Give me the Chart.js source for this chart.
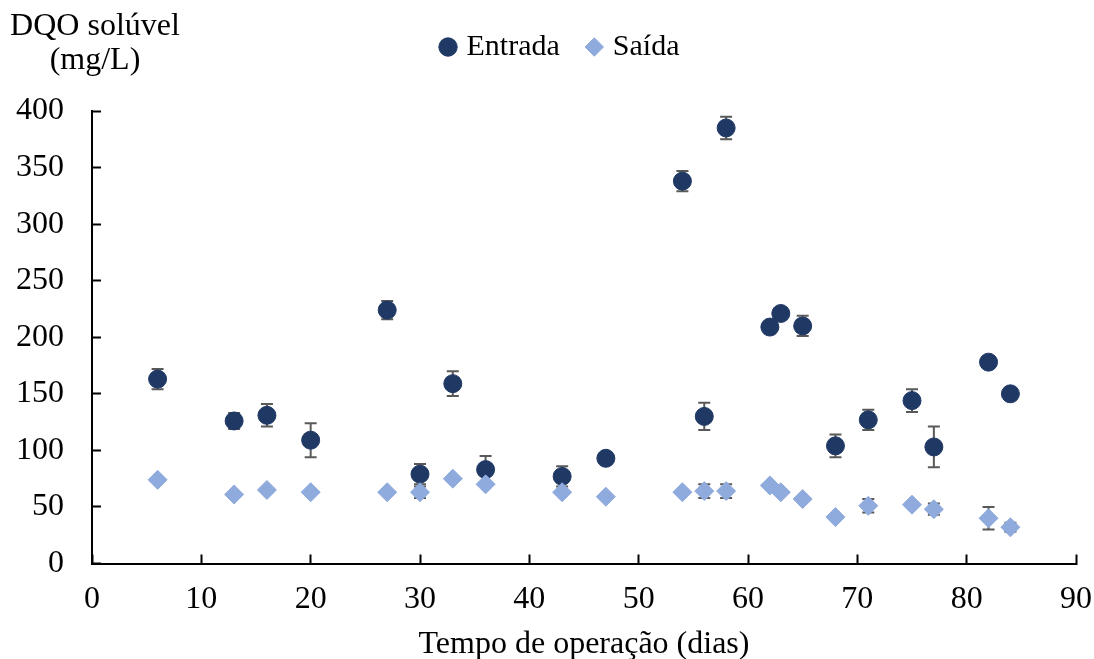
<!DOCTYPE html>
<html lang="pt">
<head>
  <meta charset="UTF-8">
  <title>DQO solúvel</title>
  <script src="https://cdn.jsdelivr.net/npm/chart.js"></script>
  <style>
    body {
      margin: 0;
      background: #fff;
    }
  </style>
</head>
<body>
  <canvas id="chart" width="1094" height="659"></canvas>

  <script>
    // dados
    const dias = [6, 13, 16, 20, 27, 30, 33, 36, 43, 47, 54, 56, 58, 62, 63, 65, 68, 71, 75, 77, 82, 84];
    const entrada = [163, 126, 131, 109, 224, 79, 159, 83, 77, 93, 338, 130, 385, 209, 221, 210, 104, 127, 144, 103, 178, 150];
    const entradaErro = [9, 7, 10, 15, 8, 9, 11, 12, 9, 0, 9, 12, 10, 0, 0, 9, 10, 9, 10, 18, 0, 0];
    const saida = [74, 61, 65, 63, 63, 63, 75, 70, 63, 59, 63, 64, 64, 69, 63, 57, 41, 51, 52, 48, 40, 32];
    const saidaErro = [0, 0, 0, 0, 0, 5, 0, 0, 0, 0, 0, 6, 6, 0, 0, 0, 0, 6, 0, 5, 10, 4];
    const xTicks = [0, 10, 20, 30, 40, 50, 60, 70, 80, 90];
    const yTicks = [0, 50, 100, 150, 200, 250, 300, 350, 400];

    const fonte = '"Liberation Serif", "Times New Roman", serif';

    // barras de erro, desenhadas atrás dos marcadores
    const errorBars = {
      id: 'errorBars',
      beforeDatasetsDraw(chart) {
        const { ctx, scales: { x, y } } = chart;
        const erros = [entradaErro, saidaErro];
        ctx.save();
        ctx.strokeStyle = '#595959';
        ctx.lineWidth = 2;
        erros.forEach((lista, d) => {
          const valores = chart.data.datasets[d].data;
          valores.forEach((p, i) => {
            const e = lista[i];
            if (!e) return;
            const px = x.getPixelForValue(p.x);
            const y1 = y.getPixelForValue(p.y + e);
            const y2 = y.getPixelForValue(p.y - e);
            ctx.beginPath();
            ctx.moveTo(px, y1); ctx.lineTo(px, y2);
            ctx.moveTo(px - 6, y1); ctx.lineTo(px + 6, y1);
            ctx.moveTo(px - 6, y2); ctx.lineTo(px + 6, y2);
            ctx.stroke();
          });
        });
        ctx.restore();
      }
    };

    // título do eixo y no canto superior esquerdo
    const yTitle = {
      id: 'yTitle',
      afterDraw(chart) {
        const ctx = chart.ctx;
        ctx.save();
        ctx.fillStyle = '#000';
        ctx.font = '32px ' + fonte;
        ctx.textAlign = 'center';
        ctx.textBaseline = 'alphabetic';
        ctx.fillText('DQO solúvel', 95, 35);
        ctx.fillText('(mg/L)', 95, 69);
        ctx.restore();
      }
    };

    // espaço extra sob a legenda e deslocamento para a direita
    const legendGap = {
      id: 'legendGap',
      afterInit(chart) {
        const legend = chart.legend;
        if (!legend) return;
        const fit = legend.fit;
        legend.fit = function () {
          fit.call(this);
          this.height += 39;
          if (this.lineWidths && this.lineWidths.length) this.lineWidths[0] -= 48;
        };
      }
    };

    const chart = new Chart(document.getElementById('chart'), {
      type: 'scatter',
      data: {
        datasets: [
          {
            label: 'Entrada',
            data: dias.map((d, i) => ({ x: d, y: entrada[i] })),
            backgroundColor: '#1F3864',
            borderColor: '#1F3864',
            borderWidth: 1,
            pointStyle: 'circle',
            pointRadius: 9,
            pointHoverRadius: 9,
            order: 1
          },
          {
            label: 'Saída',
            data: dias.map((d, i) => ({ x: d, y: saida[i] })),
            backgroundColor: '#8FAADC',
            borderColor: '#8FAADC',
            borderWidth: 1,
            pointStyle: 'rectRot',
            pointRadius: 9.5,
            pointHoverRadius: 9.5,
            order: 0
          }
        ]
      },
      options: {
        responsive: false,
        animation: false,
        layout: {
          padding: { top: 1, left: 0, right: 18, bottom: 0 }
        },
        scales: {
          x: {
            type: 'linear',
            min: 0,
            max: 90,
            afterBuildTicks: s => { s.ticks = xTicks.map(v => ({ value: v })); },
            afterFit: s => {
              s.height = 95.5;
              s.paddingLeft = 0;
              s.paddingRight = 0;
            },
            ticks: {
              color: '#000',
              padding: 26,
              maxRotation: 0,
              font: { family: fonte, size: 32 }
            },
            grid: {
              drawOnChartArea: false,
              tickLength: -9,
              tickColor: '#000',
              tickWidth: 2
            },
            border: { color: '#000', width: 2 },
            title: {
              display: true,
              text: 'Tempo de operação (dias)',
              color: '#000',
              font: { family: fonte, size: 32 },
              padding: { top: 0, bottom: -5 }
            }
          },
          y: {
            min: 0,
            max: 400,
            afterBuildTicks: s => { s.ticks = yTicks.map(v => ({ value: v })); },
            afterFit: s => { s.width = 92; },
            ticks: {
              color: '#000',
              padding: 37,
              font: { family: fonte, size: 32 }
            },
            grid: {
              drawOnChartArea: false,
              tickLength: -9,
              tickColor: '#000',
              tickWidth: 2
            },
            border: { color: '#000', width: 2 }
          }
        },
        plugins: {
          legend: {
            display: true,
            position: 'top',
            labels: {
              usePointStyle: true,
              boxWidth: 7,
              boxHeight: 13,
              padding: 31,
              color: '#000',
              font: { family: fonte, size: 30 },
              sort: (a, b) => a.datasetIndex - b.datasetIndex
            }
          },
          tooltip: { enabled: false }
        }
      },
      plugins: [errorBars, yTitle, legendGap]
    });
  </script>
</body>
</html>
